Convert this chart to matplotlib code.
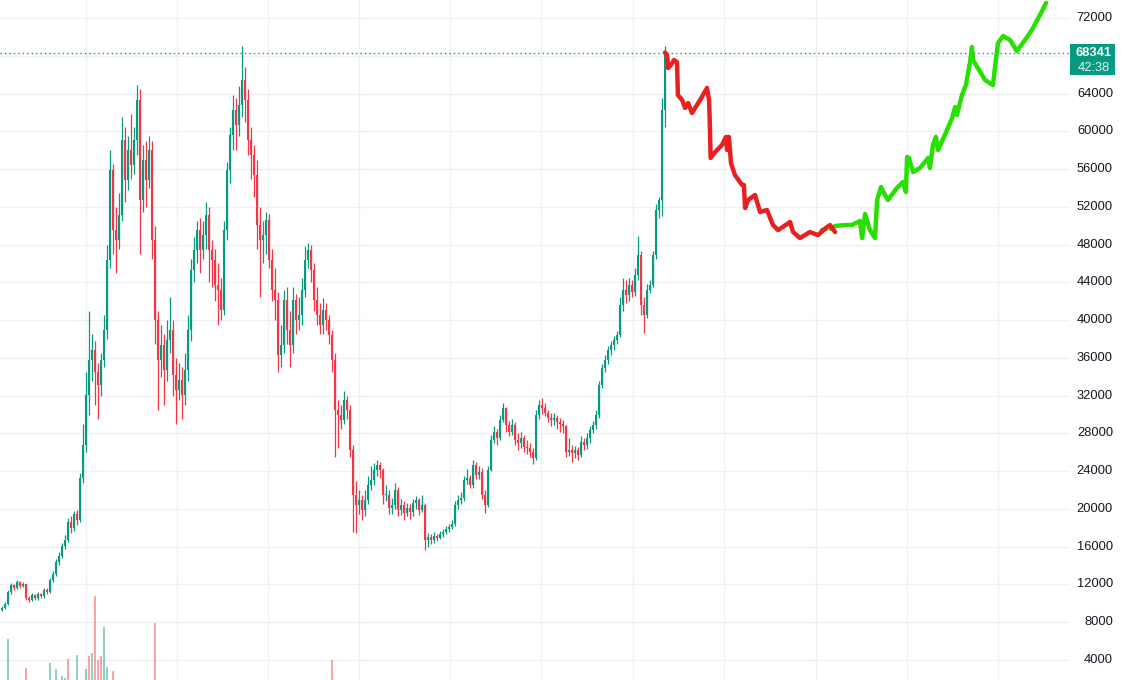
import matplotlib
matplotlib.use("Agg")
import matplotlib.pyplot as plt
from matplotlib.patches import Rectangle
import matplotlib.transforms as mtransforms

# ---------------- data ----------------
# candle closes (one candle per bar index), open = previous close
close = [
    9500, 9920, 11200, 11940, 11620, 12250, 11830, 12040, 10560, 10350,
    10880, 10560, 10980, 10770, 11410, 11200, 12470, 13100, 14380, 15010,
    16070, 16700, 18610, 17980, 19460, 18820, 23270, 26770, 32070, 35770,
    36830, 34500, 33130, 35770, 38950, 46370, 55900, 49540, 48480, 51130,
    59080, 54840, 58020, 56430, 59080, 63310, 52720, 56960, 54840, 58020,
    48480, 40010, 35770, 37360, 34710, 37890, 38950, 34180, 32590, 33650,
    32070, 34710, 38950, 45310, 47430, 49540, 47430, 49010, 51130, 47430,
    46370, 43720, 43190, 41070, 49540, 55900, 59610, 62260, 60670, 62780,
    65430, 63310, 59080, 57490, 55370, 50070, 48480, 49010, 50600, 46370,
    43190, 42130, 36300, 37360, 42130, 38950, 37360, 42130, 40010, 40540,
    43190, 46370, 47430, 45310, 42130, 40540, 39480, 41070, 40010, 38420,
    35770, 30480, 29950, 29420, 31540, 30480, 26240, 21470, 20410, 20940,
    19880, 20940, 22530, 23060, 24120, 24650, 24120, 21470, 21470, 20100,
    20410, 22000, 19880, 20410, 19560, 20100, 19670, 20620, 20940, 19880,
    20410, 16700, 17020, 16700, 17130, 16920, 17340, 17550, 17870, 18080,
    18400, 20410, 20940, 21150, 23060, 23270, 22530, 24650, 23590, 23910,
    21470, 20410, 24120, 27300, 28150, 27510, 29420, 30690, 28890, 28150,
    28890, 27300, 26980, 27510, 26560, 26450, 26030, 25390, 29950, 31010,
    30690, 30160, 29630, 29420, 29630, 29200, 28990, 28780, 26030, 26240,
    25920, 26240, 25710, 27090, 26770, 27510, 28360, 28890, 29950, 33130,
    34920, 35770, 36830, 37360, 37890, 38420, 41600, 43190, 42660, 43720,
    42980, 44780, 46900, 41600, 40540, 43190, 43720, 46900, 51660, 52720,
    62260, 68341,
]
high = [
    9700, 10100, 11400, 12200, 12100, 12500, 12400, 12300, 12100, 10800,
    11100, 11000, 11200, 11100, 11600, 11600, 12700, 13400, 14700, 15400,
    16400, 17200, 19000, 19300, 19800, 19900, 23800, 29000, 34500, 41000,
    38500, 37800, 35500, 36500, 40500, 48000, 58000, 56500, 52000, 53500,
    61500, 60500, 59500, 61800, 60500, 64900, 64500, 58500, 59000, 59500,
    59000, 50000, 41000, 39500, 38500, 40000, 42500, 40000, 36000, 35500,
    35000, 36500, 40500, 46500, 48800, 50500, 50800, 50500, 52500, 52000,
    48500, 47500, 46000, 44500, 50500, 56800, 60500, 63800, 63500, 64800,
    69000, 66800, 64500, 60500, 58500, 57000, 52000, 50500, 51500, 51200,
    47500, 45500, 43000, 39500, 43200, 43500, 41000, 43500, 42800, 42500,
    44500, 47800, 48200, 48000, 46000, 43500, 41800, 42300, 41800, 40500,
    39000, 36500, 31500, 31000, 32500, 32000, 31000, 26800, 23000, 22000,
    21500, 22000, 23500, 24500, 24900, 25200, 25000, 24300, 22500, 22000,
    21200, 22800, 22300, 21000, 20800, 20600, 20500, 21000, 21400, 21200,
    21500, 20600, 17500, 17300, 17600, 17300, 17700, 17900, 18200, 18400,
    18800, 20800, 21500, 21800, 23500, 24200, 23600, 25200, 25000, 24500,
    24300, 22000, 24500, 27800, 28800, 28500, 30000, 31200, 30800, 29300,
    29500, 29200, 28000, 28200, 27800, 27300, 27000, 26500, 30500, 31500,
    31800, 31200, 30500, 30200, 30200, 30000, 29600, 29400, 28900, 27500,
    26800, 26700, 26600, 27700, 27500, 28000, 28800, 29300, 30500, 33500,
    35300, 36300, 37300, 37800, 38300, 38900, 42500, 44500, 44200, 44500,
    44200, 45500, 48900, 47300, 42500, 43800, 44300, 47300, 52300, 53000,
    63500, 69000,
]
low = [
    9200, 9400, 9800, 11000, 11400, 11500, 11600, 11700, 10400, 10100,
    10200, 10400, 10400, 10600, 10600, 11000, 11100, 12300, 12900, 14100,
    14800, 15800, 16500, 17500, 17700, 18300, 18600, 22800, 26000, 30000,
    33500, 31000, 29500, 32000, 35000, 38000, 45500, 47000, 45000, 47500,
    50500, 52500, 53800, 55000, 55500, 57500, 47000, 51500, 52000, 54000,
    46500, 37500, 30500, 34000, 31000, 33500, 36500, 32000, 29000, 31500,
    29500, 31000, 33500, 37800, 44000, 46000, 45000, 46500, 47500, 44000,
    43500, 42000, 39500, 40000, 40500, 48500, 54500, 58000, 58000, 59500,
    61500, 61000, 57500, 55000, 53000, 47500, 42500, 46000, 47000, 45500,
    42000, 40000, 34500, 35000, 36500, 37500, 35000, 36500, 38500, 39000,
    39500, 42500, 45500, 44000, 41000, 39500, 38500, 38500, 39000, 37500,
    34500, 25500, 26500, 28500, 29000, 29500, 25500, 17600, 17500, 19500,
    18800, 19300, 20500, 22000, 22500, 23500, 23300, 20500, 20800, 19500,
    19500, 20000, 19300, 19400, 18800, 19200, 18900, 19300, 20000, 19400,
    19700, 15600, 16000, 16300, 16400, 16600, 16800, 17000, 17300, 17600,
    17900, 18200, 20000, 20500, 20800, 22600, 22200, 22200, 23200, 23200,
    21000, 19600, 20200, 24000, 27000, 26800, 27300, 29200, 28200, 27700,
    27800, 26800, 26200, 26500, 26000, 25800, 25500, 24800, 25200, 29500,
    30100, 29800, 29200, 28800, 28900, 28500, 28200, 28000, 25500, 25600,
    25000, 25400, 25200, 25500, 26200, 26300, 27000, 28000, 28500, 29600,
    32800, 34500, 35300, 36300, 36800, 37500, 38200, 41000, 41800, 42000,
    42500, 42600, 44300, 40500, 38600, 40200, 42900, 43500, 46500, 50800,
    51000, 60500,
]
first_open = 9300
last_price = 68341
last_timer = "42:38"

# volume (bar index, volume units, up?)
vol_idx = [2, 8, 16, 18, 20, 21, 22, 25, 28, 29, 30, 31, 32, 33, 34, 35, 37, 51, 110]
vol_val = [41, 12, 17, 11, 4, 2, 21, 25, 11, 24, 27, 84, 20, 24, 53, 13, 9, 57, 20]
vol_up = [1, 0, 1, 1, 1, 1, 0, 1, 1, 0, 1, 0, 0, 0, 1, 1, 0, 0, 0]

# hand-drawn projection (bar index, price)
red_x = [221.0, 221.7, 222.0, 223.0, 224.0, 225.0, 225.3, 226.7, 227.7, 228.7,
         230.0, 232.7, 235.0, 235.7, 236.0, 236.2, 237.7, 240.0, 241.3, 241.7,
         242.3, 243.0, 244.3, 246.7, 247.3, 247.7, 248.7, 251.0, 252.7, 255.0,
         257.0, 258.7, 262.7, 263.7, 266.0, 269.3, 272.0, 275.0, 276.0, 277.7]
red_y = [68341, 68080, 66700, 67020, 67550, 67340, 63840, 63310, 62470, 62990,
         61940, 63310, 64590, 63310, 60140, 57170, 57800, 58550, 59400, 58020,
         59400, 56640, 55370, 54310, 54310, 51870, 52720, 53250, 51450, 51660,
         50070, 49540, 50390, 49330, 48690, 49330, 49010, 49860, 50070, 49330]

green_x = [276.3, 277.7, 281.0, 283.3, 286.0, 286.7, 287.7, 289.3, 291.0, 291.7,
           293.0, 294.0, 295.3, 298.3, 300.3, 301.3, 301.7, 302.3, 303.7, 306.0,
           308.7, 309.3, 310.3, 311.3, 312.0, 314.3, 316.7, 317.7, 318.3, 320.0,
           321.3, 322.7, 323.3, 323.7, 325.3, 327.7, 330.3, 331.3, 332.0, 333.7,
           336.0, 338.3, 341.0, 343.3, 346.0, 348.0]
green_y = [49650, 49970, 50070, 50070, 50500, 48690, 51240, 49540, 48690, 52720,
           54100, 53460, 52720, 53990, 54630, 53570, 57280, 57170, 55690, 56110,
           57170, 56110, 58550, 59400, 58020, 59610, 61410, 62570, 61720, 63840,
           64900, 67340, 68930, 67550, 66700, 65430, 64900, 67550, 69350, 70090,
           69670, 68500, 69670, 70730, 72320, 73590]
green_stub_x = [273.3, 274.7]
green_stub_y = [49540, 49650]

grid_prices = list(range(4000, 72001, 4000))
tick_labels = [str(p) if p != 68000 else "" for p in grid_prices]
vgrid_idx = [28.0, 58.3, 88.7, 119.0, 149.3, 179.7, 210.3, 240.7, 271.3, 301.7, 332.0]

# ---------------- styling ----------------
UP = "#089981"
DOWN = "#F23645"
GRID = "#eef0f3"
TXT = "#131722"

W, H = 1125, 680
PLOT_W = 1070
fig = plt.figure(figsize=(W / 100, H / 100), dpi=100)
fig.patch.set_facecolor("white")
ax = fig.add_axes([0, 0, PLOT_W / W, 1])
ax.set_facecolor("white")
ax.set_xlim(-0.667, 356.0)
ax.set_ylim(1881, 73907)
for s in ax.spines.values():
    s.set_visible(False)
ax.set_xticks([])
ax.set_yticks([])

# grid
for p in grid_prices:
    ax.axhline(p, color=GRID, lw=1.0, zorder=0)
for v in vgrid_idx:
    ax.axvline(v, color=GRID, lw=1.0, zorder=0)

# volume on an overlay axis
axv = fig.add_axes([0, 0, PLOT_W / W, 1], sharex=ax)
axv.set_ylim(0, 680)
axv.patch.set_visible(False)
axv.axis("off")
vcols = [(8/255, 153/255, 129/255, 0.45) if u else (242/255, 54/255, 69/255, 0.45) for u in vol_up]
axv.bar(vol_idx, vol_val, width=0.55, color=vcols, zorder=1)

# candles
opens = [first_open] + close[:-1]
xs = list(range(len(close)))
lo, hi, cols = [], [], []
for o, c in zip(opens, close):
    a, b = min(o, c), max(o, c)
    if b - a < 150:
        b = a + 150
    lo.append(a)
    hi.append(b)
    cols.append(UP if c >= o else DOWN)
ax.vlines(xs, low, high, colors=cols, lw=0.9, zorder=3)
ax.vlines(xs, lo, hi, colors=cols, lw=1.5, zorder=3)

# last price dotted line
ax.axhline(last_price, color=UP, lw=1.0, ls=(0, (1, 2.2)), zorder=2)

# projection lines
lw = 3.2
ax.plot(green_stub_x, green_stub_y, color="#27e000", lw=lw, solid_capstyle="round", zorder=5)
ax.plot(green_x, green_y, color="#27e000", lw=lw, solid_capstyle="round",
        solid_joinstyle="round", zorder=5, clip_on=True)
ax.plot(red_x, red_y, color="#e8201f", lw=lw, solid_capstyle="round",
        solid_joinstyle="round", zorder=6)

# price scale labels
trans = mtransforms.blended_transform_factory(ax.transAxes, ax.transData)
xr = 1113 / PLOT_W
for p, lab in zip(grid_prices, tick_labels):
    if lab:
        ax.text(xr, p, lab, transform=trans, ha="right", va="center",
                fontsize=9.3, color=TXT, family="Liberation Sans", clip_on=False)

# last price box
fig.canvas.draw()
ydisp = ax.transData.transform((0, last_price))[1]
ypix_top = H - ydisp  # in image pixels from top
box_top = ypix_top - 8.5
box_h = 31
fig.patches.append(Rectangle((1070 / W, 1 - (box_top + box_h) / H), 45 / W, box_h / H,
                             transform=fig.transFigure, facecolor=UP, edgecolor="none"))
fig.text(1093.5 / W, 1 - (ypix_top) / H, f"{last_price}", ha="center", va="center",
         color="white", fontsize=9.3, fontweight="bold", family="Liberation Sans")
fig.text(1093.5 / W, 1 - (ypix_top + 15) / H, last_timer, ha="center", va="center",
         color="#dff3ef", fontsize=9.3, family="Liberation Sans")

fig.savefig("out.png", dpi=100, facecolor="white")
